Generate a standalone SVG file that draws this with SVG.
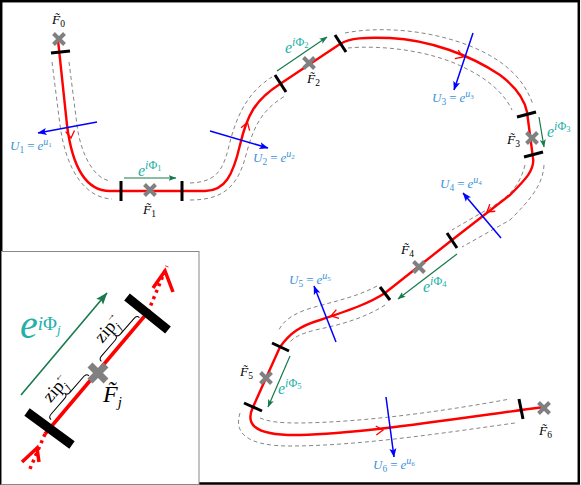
<svg xmlns="http://www.w3.org/2000/svg" width="581" height="485" viewBox="0 0 581 485">
<style>
text{font-family:"Liberation Serif","DejaVu Serif",serif}
.i{font-style:italic}
.red{fill:none;stroke:#ff0000;stroke-width:2.4;stroke-linecap:round;stroke-linejoin:round}
.dash{fill:none;stroke:#666;stroke-width:0.8;stroke-dasharray:4 3}
.tick{stroke:#000;stroke-width:3;fill:none}
.cross{stroke:#808080;stroke-width:4;fill:none}
.ua{stroke:#0000ff;stroke-width:1.5;fill:none;marker-end:url(#mb)}
.pa{stroke:#167a4c;stroke-width:1.2;fill:none;marker-end:url(#mg)}
.ul{fill:#3b93d9;font-size:13px}
.pl{fill:#22b0a8;font-size:16px}
.fl{fill:#000;font-size:13.5px}
</style>
<defs>
<marker id="mb" markerUnits="userSpaceOnUse" viewBox="0 0 9 8" markerWidth="9" markerHeight="8" refX="8.5" refY="4" orient="auto"><path d="M0,0.5 L9,4 L0,7.5 L2,4 z" fill="#0000ff"/></marker>
<marker id="mg" markerUnits="userSpaceOnUse" viewBox="0 0 8 7" markerWidth="8" markerHeight="7" refX="7.5" refY="3.5" orient="auto"><path d="M0,0.5 L8,3.5 L0,6.5 L1.8,3.5 z" fill="#167a4c"/></marker>
<marker id="mg2" markerUnits="userSpaceOnUse" viewBox="0 0 12 10" markerWidth="12" markerHeight="10" refX="11.5" refY="5" orient="auto"><path d="M0,0.5 L12,5 L0,9.5 L2.5,5 z" fill="#167a4c"/></marker>
<path id="ch" d="M-7,-4.5 L0,0 L-7,4.5" fill="none" stroke="#ff0000" stroke-width="1.3"/>
</defs>

<rect x="1.2" y="1.2" width="577.6" height="482.3" fill="#fff" stroke="#000" stroke-width="2.5"/>

<g id="connectors">
<g id="dashed">
<path class="dash" d="M52,62 L60,125 C66,170 85,198 112,199"/>
<path class="dash" d="M69,62 L77,125 C80,150 92,178 110,181"/>
<path class="dash" d="M190,183 C215,182 222,172 228,150 C236,115 248,92 272,77"/>
<path class="dash" d="M190,200 C225,200 238,185 246,155 C254,125 262,110 285,96"/>
<path class="dash" d="M345,33 C380,26 430,30 470,46 C505,60 525,80 533,105"/>
<path class="dash" d="M348,48 C380,45 430,50 465,68 C490,80 505,95 512,110"/>
<path class="dash" d="M544,165 C543,185 530,200 510,220 L462,247"/>
<path class="dash" d="M525,165 C520,185 510,195 495,205 L452,230"/>
<path class="dash" d="M377,286 C355,298 330,302 305,310 C290,316 282,322 278,332"/>
<path class="dash" d="M385,305 C365,318 340,325 315,330 C300,334 293,338 290,342"/>
<path class="dash" d="M240,413 C234,432 245,446 290,446 C360,446 450,432 515,423"/>
<path class="dash" d="M260,418 C270,422 280,423 300,423 C370,422 450,410 510,399"/>
</g>
<path id="path" class="red" d="M58,40 L67,125 C72,165 85,191 110,191 L205,191 C225,191 233,175 240,145 C247,115 255,100 280,84 L340,44 C350,38 365,37 390,38 C430,40 470,55 500,75 C520,90 525,102 527,112 L533,158 C535,170 525,180 510,195 L452,240 L385,293 C370,303 350,310 320,320 C300,326 290,333 280,347 L253,407 C246,422 250,436 300,435 C360,434 460,418 544,407"/>
<use href="#ch" transform="translate(71,138) rotate(82)"/>
<use href="#ch" transform="translate(247.5,122.5) rotate(-72)"/>
<use href="#ch" transform="translate(463,57) rotate(22)"/>
<use href="#ch" transform="translate(487,212) rotate(142)"/>
<use href="#ch" transform="translate(331,316) rotate(163)"/>
<use href="#ch" transform="translate(383,430) rotate(-4)"/>
<g id="ticks">
<path class="tick" d="M51,53 L70,51"/>
<path class="tick" d="M121,181 L121,201"/>
<path class="tick" d="M182,181 L182,201"/>
<path class="tick" d="M275,75 L286,92"/>
<path class="tick" d="M335,35 L346,52"/>
<path class="tick" d="M517,117 L536,112"/>
<path class="tick" d="M524,157 L543,152"/>
<path class="tick" d="M447,233 L457,248"/>
<path class="tick" d="M380,287 L390,300"/>
<path class="tick" d="M272,343 L289,351"/>
<path class="tick" d="M244,403 L262,411"/>
<path class="tick" d="M519,399 L523,419"/>
</g>
</g>

<g id="F0"><path class="cross" d="M53.5,33.5 L64.5,44.5 M64.5,33.5 L53.5,44.5"/><text class="fl i" x="52" y="24">F&#x303;<tspan font-size="9.5" font-style="normal" dy="3">0</tspan></text></g>
<g id="F1"><path class="cross" d="M144.5,184.5 L155.5,195.5 M155.5,184.5 L144.5,195.5"/><text class="fl i" x="143" y="214">F&#x303;<tspan font-size="9.5" font-style="normal" dy="3">1</tspan></text></g>
<g id="F2"><path class="cross" d="M303.5,57.5 L314.5,68.5 M314.5,57.5 L303.5,68.5"/><text class="fl i" x="307" y="83">F&#x303;<tspan font-size="9.5" font-style="normal" dy="3">2</tspan></text></g>
<g id="F3"><path class="cross" d="M526.5,132.5 L537.5,143.5 M537.5,132.5 L526.5,143.5"/><text class="fl i" x="507" y="144">F&#x303;<tspan font-size="9.5" font-style="normal" dy="3">3</tspan></text></g>
<g id="F4"><path class="cross" d="M413.5,261.5 L424.5,272.5 M424.5,261.5 L413.5,272.5"/><text class="fl i" x="401" y="254">F&#x303;<tspan font-size="9.5" font-style="normal" dy="3">4</tspan></text></g>
<g id="F5"><path class="cross" d="M260.5,372.5 L271.5,383.5 M271.5,372.5 L260.5,383.5"/><text class="fl i" x="240" y="376">F&#x303;<tspan font-size="9.5" font-style="normal" dy="3">5</tspan></text></g>
<g id="F6"><path class="cross" d="M538.5,402.5 L549.5,413.5 M549.5,402.5 L538.5,413.5"/><text class="fl i" x="539" y="435">F&#x303;<tspan font-size="9.5" font-style="normal" dy="3">6</tspan></text></g>

<g id="U-arrows">
<path class="ua" d="M97,122 L38,133"/>
<path class="ua" d="M210,131 L268,148"/>
<path class="ua" d="M473,33 L454,90"/>
<path class="ua" d="M501,238 L463,193"/>
<path class="ua" d="M336,342 L314,286"/>
<path class="ua" d="M386,397 L394,457"/>
<text class="ul" x="10" y="150"><tspan class="i">U</tspan><tspan font-size="9.5" dy="3">1</tspan><tspan dx="3" dy="-3">=</tspan><tspan class="i" dx="3">e</tspan><tspan class="i" font-size="10" dy="-5">u</tspan><tspan font-size="7" dy="1.5">1</tspan></text>
<text class="ul" x="253" y="162"><tspan class="i">U</tspan><tspan font-size="9.5" dy="3">2</tspan><tspan dx="3" dy="-3">=</tspan><tspan class="i" dx="3">e</tspan><tspan class="i" font-size="10" dy="-5">u</tspan><tspan font-size="7" dy="1.5">2</tspan></text>
<text class="ul" x="432" y="102"><tspan class="i">U</tspan><tspan font-size="9.5" dy="3">3</tspan><tspan dx="3" dy="-3">=</tspan><tspan class="i" dx="3">e</tspan><tspan class="i" font-size="10" dy="-5">u</tspan><tspan font-size="7" dy="1.5">3</tspan></text>
<text class="ul" x="440" y="188"><tspan class="i">U</tspan><tspan font-size="9.5" dy="3">4</tspan><tspan dx="3" dy="-3">=</tspan><tspan class="i" dx="3">e</tspan><tspan class="i" font-size="10" dy="-5">u</tspan><tspan font-size="7" dy="1.5">4</tspan></text>
<text class="ul" x="289" y="284"><tspan class="i">U</tspan><tspan font-size="9.5" dy="3">5</tspan><tspan dx="3" dy="-3">=</tspan><tspan class="i" dx="3">e</tspan><tspan class="i" font-size="10" dy="-5">u</tspan><tspan font-size="7" dy="1.5">5</tspan></text>
<text class="ul" x="373" y="469"><tspan class="i">U</tspan><tspan font-size="9.5" dy="3">6</tspan><tspan dx="3" dy="-3">=</tspan><tspan class="i" dx="3">e</tspan><tspan class="i" font-size="10" dy="-5">u</tspan><tspan font-size="7" dy="1.5">6</tspan></text>
</g>

<g id="Phi-arrows">
<path class="pa" d="M124,178 L176,178"/>
<path class="pa" d="M277,71 L327,37"/>
<path class="pa" d="M539,117 L544,147"/>
<path class="pa" d="M457,254 L398,299"/>
<path class="pa" d="M290,356 L268,407"/>
<text class="pl" x="138" y="176"><tspan class="i">e</tspan><tspan class="i" font-size="12" dy="-7">i</tspan><tspan font-size="12">Φ</tspan><tspan font-size="8.5" dy="2">1</tspan></text>
<text class="pl" x="285" y="53"><tspan class="i">e</tspan><tspan class="i" font-size="12" dy="-7">i</tspan><tspan font-size="12">Φ</tspan><tspan font-size="8.5" dy="2">2</tspan></text>
<text class="pl" x="547" y="137"><tspan class="i">e</tspan><tspan class="i" font-size="12" dy="-7">i</tspan><tspan font-size="12">Φ</tspan><tspan font-size="8.5" dy="2">3</tspan></text>
<text class="pl" x="423" y="292"><tspan class="i">e</tspan><tspan class="i" font-size="12" dy="-7">i</tspan><tspan font-size="12">Φ</tspan><tspan font-size="8.5" dy="2">4</tspan></text>
<text class="pl" x="278" y="394"><tspan class="i">e</tspan><tspan class="i" font-size="12" dy="-7">i</tspan><tspan font-size="12">Φ</tspan><tspan font-size="8.5" dy="2">5</tspan></text>
</g>

<g id="inset">
<rect x="1.5" y="251.5" width="197.5" height="233" fill="#fff" stroke="#888" stroke-width="1"/>
<path d="M21,395 L107,293" stroke="#167a4c" stroke-width="1.6" fill="none" marker-end="url(#mg2)"/>
<text x="20" y="338" fill="#22b0a8" font-size="40"><tspan class="i">e</tspan><tspan class="i" font-size="19" dy="-8">i</tspan><tspan font-size="19">Φ</tspan><tspan class="i" font-size="13" dy="4">j</tspan></text>
<path d="M45,434 L148,312" fill="none" stroke="#ff0000" stroke-width="3.5"/>
<path d="M148,312 L167,266" fill="none" stroke="#ff0000" stroke-width="3.5" stroke-dasharray="3 4"/>
<path d="M45,434 L29,471" fill="none" stroke="#ff0000" stroke-width="3.5" stroke-dasharray="3 4"/>
<path d="M153,288 L165,271 L173,292" fill="none" stroke="#ff0000" stroke-width="3.5"/>
<path d="M22,462 L37,448 L39,462" fill="none" stroke="#ff0000" stroke-width="3.5"/>
<path d="M127,297 L168,330 M27,412 L72,445" stroke="#000" stroke-width="9" fill="none"/>
<path d="M90,365 L106,381 M106,365 L90,381" stroke="#808080" stroke-width="7" fill="none"/>
<g transform="translate(98,373) rotate(-49.1)">
<path d="M11,-5 Q11,-8.5 15,-8.5 L36,-8.5 Q40,-8.5 40,-12 Q40,-8.5 44,-8.5 L65,-8.5 Q69,-8.5 69,-5" fill="none" stroke="#000" stroke-width="1"/>
<path d="M-66,-5 Q-66,-8.5 -62,-8.5 L-41,-8.5 Q-37,-8.5 -37,-12 Q-37,-8.5 -33,-8.5 L-12,-8.5 Q-8,-8.5 -8,-5" fill="none" stroke="#000" stroke-width="1"/>
<text x="25" y="-16" font-size="18">zip</text>
<text x="47" y="-11" font-size="12" class="i">j</text>
<text x="45.5" y="-25" font-size="10">→</text>
<text x="-54" y="-16" font-size="18">zip</text>
<text x="-32" y="-11" font-size="12" class="i">j</text>
<text x="-33.5" y="-25" font-size="10">←</text>
</g>
<text x="103" y="402" font-size="24" class="i">F&#x303;<tspan font-size="15" dy="5">j</tspan></text>
</g>
</svg>
